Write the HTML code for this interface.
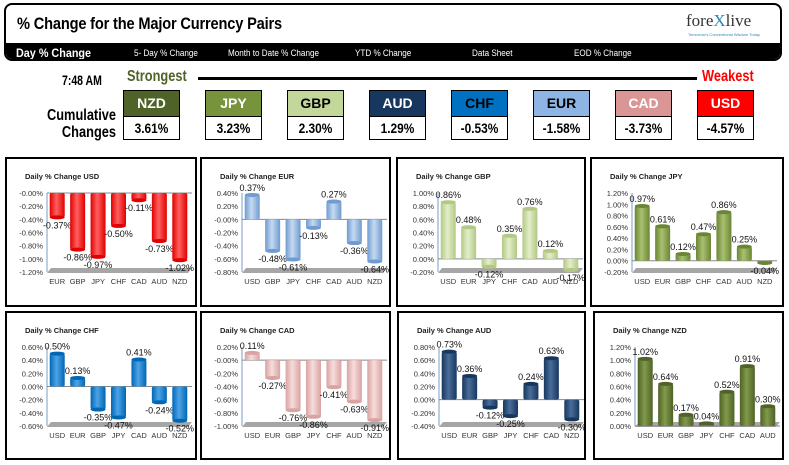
<!DOCTYPE html>
<html><head><meta charset="utf-8">
<style>
body{margin:0;width:789px;height:465px;background:#fff;font-family:"Liberation Sans",sans-serif;overflow:hidden;position:relative}
.abs{position:absolute}
.hdr{left:4px;top:3px;width:778px;height:58px;border:2px solid #000;border-radius:8px;overflow:hidden;box-sizing:border-box}
.title{left:11px;top:9px;font-weight:bold;font-size:17px;transform:scaleX(.86);transform-origin:left;letter-spacing:-.2px;white-space:nowrap}
.nav{left:0;top:38px;width:100%;height:20px;background:#000;color:#fff;font-size:9px}
.nav span{position:absolute;top:5px;transform:scaleX(.9);transform-origin:left;white-space:nowrap}
.box{width:57px;height:50px;border:1px solid #000;box-sizing:border-box}
.box .c{height:25px;border-bottom:1px solid #000;color:#fff;font-weight:bold;font-size:14px;text-align:center;line-height:25px}
.box .v{height:23px;font-weight:bold;font-size:14px;text-align:center;line-height:23px;transform:scaleX(.85)}
.panel{border:2px solid #000;box-sizing:border-box;background:#fff}
</style></head><body>
<div class="abs hdr">
 <div class="abs title">% Change for the Major Currency Pairs</div>
 <div class="abs" style="left:680px;top:6px;font-family:'Liberation Serif',serif;font-size:17px;color:#333">fore<span style="color:#2a8ab8">X</span>live</div>
 <div class="abs" style="left:682px;top:27px;font-size:4px;color:#2a8ab8;white-space:nowrap">Tomorrow's Conventional Wisdom Today</div>
 <div class="abs nav">
  <span style="left:10px;top:3px;font-size:12px;font-weight:bold">Day % Change</span>
  <span style="left:128px">5- Day % Change</span>
  <span style="left:222px">Month to Date % Change</span>
  <span style="left:349px">YTD % Change</span>
  <span style="left:466px">Data Sheet</span>
  <span style="left:568px">EOD % Change</span>
 </div>
</div>
<div class="abs" style="left:62px;top:72px;font-weight:bold;font-size:14px;transform:scaleX(.75);transform-origin:left;white-space:nowrap">7:48 AM</div>
<div class="abs" style="left:127px;top:68px;font-weight:bold;font-size:16px;color:#4f6228;transform:scaleX(.8);transform-origin:left">Strongest</div>
<div class="abs" style="left:198px;top:77px;width:499px;height:3px;background:#000"></div>
<div class="abs" style="left:702px;top:68px;font-weight:bold;font-size:16px;color:#f00;transform:scaleX(.8);transform-origin:left">Weakest</div>
<div class="abs" style="left:20px;top:107px;width:96px;text-align:right;font-weight:bold;font-size:16px;line-height:17px;transform:scaleX(.8);transform-origin:right">Cumulative Changes</div>
<div id="boxes"></div>
<div id="panels"></div>
<script>
const boxCur=["NZD","JPY","GBP","AUD","CHF","EUR","CAD","USD"];
const boxVal=["3.61%","3.23%","2.30%","1.29%","-0.53%","-1.58%","-3.73%","-4.57%"];
const boxCol=["#4f6228","#77933c","#c4d79b","#17375e","#0070c0","#8db4e2","#da9694","#ff0000"];
const boxTxt=["#fff","#fff","#000","#fff","#000","#000","#fff","#fff"];
const bx=document.getElementById('boxes');
boxCur.forEach((c,i)=>{
 const d=document.createElement('div');
 d.className='abs box';
 d.style.left=(123+i*82)+'px';d.style.top='90px';
 
 
 d.innerHTML='<div class="c" style="background:'+boxCol[i]+';color:'+boxTxt[i]+'">'+c+'</div><div class="v">'+boxVal[i]+'</div>';
 bx.appendChild(d);
});

const usdCats=["EUR","GBP","JPY","CHF","CAD","AUD","NZD"], usdVals=[-0.37,-0.86,-0.97,-0.50,-0.11,-0.73,-1.02];
const eurCats=["USD","GBP","JPY","CHF","CAD","AUD","NZD"], eurVals=[0.37,-0.48,-0.61,-0.13,0.27,-0.36,-0.64];
const gbpCats=["USD","EUR","JPY","CHF","CAD","AUD","NZD"], gbpVals=[0.86,0.48,-0.12,0.35,0.76,0.12,-0.17];
const jpyCats=["USD","EUR","GBP","CHF","CAD","AUD","NZD"], jpyVals=[0.97,0.61,0.12,0.47,0.86,0.25,-0.04];
const chfCats=["USD","EUR","GBP","JPY","CAD","AUD","NZD"], chfVals=[0.50,0.13,-0.35,-0.47,0.41,-0.24,-0.52];
const cadCats=["USD","EUR","GBP","JPY","CHF","AUD","NZD"], cadVals=[0.11,-0.27,-0.76,-0.86,-0.41,-0.63,-0.91];
const audCats=["USD","EUR","GBP","JPY","CHF","CAD","NZD"], audVals=[0.73,0.36,-0.12,-0.25,0.24,0.63,-0.30];
const nzdCats=["USD","EUR","GBP","JPY","CHF","CAD","AUD"], nzdVals=[1.02,0.64,0.17,0.04,0.52,0.91,0.30];
const axisMin=[-1.2,-0.8,-0.2,-0.2,-0.6,-1.0,-0.4,0.0];
const axisMax=[0.0,0.4,1.0,1.2,0.6,0.2,0.8,1.2];

const panels=[
 {name:"USD",cats:usdCats,vals:usdVals,col:"#e00000",lt:"#ff6060",x:5,y:157,w:192,h:150},
 {name:"EUR",cats:eurCats,vals:eurVals,col:"#6f9bd0",lt:"#c5daf2",x:200,y:157,w:191,h:150},
 {name:"GBP",cats:gbpCats,vals:gbpVals,col:"#b3c884",lt:"#e4eecb",x:396,y:157,w:190,h:150},
 {name:"JPY",cats:jpyCats,vals:jpyVals,col:"#6a8634",lt:"#a9c070",x:590,y:157,w:194,h:150},
 {name:"CHF",cats:chfCats,vals:chfVals,col:"#0067b5",lt:"#4da3e6",x:5,y:311,w:192,h:149},
 {name:"CAD",cats:cadCats,vals:cadVals,col:"#d8a3a2",lt:"#f7dcdc",x:200,y:311,w:191,h:149},
 {name:"AUD",cats:audCats,vals:audVals,col:"#17375e",lt:"#4a6d9a",x:397,y:311,w:189,h:149},
 {name:"NZD",cats:nzdCats,vals:nzdVals,col:"#4f6228",lt:"#829a4a",x:593,y:311,w:191,h:149}
];
const NS="http://www.w3.org/2000/svg";
const host=document.getElementById('panels');
function mk(tag,attrs,parent){const e=document.createElementNS(NS,tag);for(const k in attrs)e.setAttribute(k,attrs[k]);parent.appendChild(e);return e;}
panels.forEach((p,pi)=>{
 const div=document.createElement('div');
 div.className='abs panel';
 div.style.left=p.x+'px';div.style.top=p.y+'px';div.style.width=p.w+'px';div.style.height=p.h+'px';
 
 
 host.appendChild(div);
 const svg=mk('svg',{width:p.w-4,height:p.h-4,style:'position:absolute;left:0;top:0'},div);
 
 
 const defs=mk('defs',{},svg);
 const g=mk('linearGradient',{id:'g'+pi,x1:0,x2:1,y1:0,y2:0},defs);
 mk('stop',{offset:'0','stop-color':p.col},g);
 mk('stop',{offset:'0.45','stop-color':p.lt},g);
 mk('stop',{offset:'1','stop-color':p.col},g);
 const t=mk('text',{x:18,y:20,'font-size':'7.5','font-weight':'bold',fill:'#222'},svg);
 t.textContent='Daily % Change '+p.name;
 
 
 const mn=axisMin[pi],mx=axisMax[pi];
 const top=34,bot=113,left=40,right=183;
 const Y=v=>top+(mx-v)/(mx-mn)*(bot-top);
 const fl=mk('polygon',{points:(left+4)+','+(bot-4)+' '+(right+2)+','+(bot-4)+' '+(right-2)+','+(bot+1)+' '+left+','+(bot+1),fill:'#a6a6a6'},svg);
 
 
 for(let v=mn;v<=mx+1e-6;v+=0.2){
  const lb=mk('text',{x:left-4,y:Y(v)+3,'font-size':'7.5','text-anchor':'end',fill:'#333'},svg);
  lb.textContent=v.toFixed(2)+'%';
  
  
 }
 const ax=mk('line',{x1:left,x2:left,y1:top,y2:bot,stroke:'#7a9cc6','stroke-width':1},svg);
 
 
 const zl=mk('line',{x1:left,x2:right+2,y1:Y(0),y2:Y(0),stroke:'#888','stroke-width':1},svg);
 
 
 const step=(right-left)/p.cats.length,bw=15;
 p.cats.forEach((c,i)=>{
  const cx=left+step*(i+0.5), v=p.vals[i];
  const y0=Y(0),y1=Y(v);
  const r=mk('rect',{x:cx-bw/2,y:Math.min(y0,y1),width:bw,height:Math.max(1.5,Math.abs(y1-y0)),fill:'url(#g'+pi+')',rx:2},svg);
  
  
  const cap=mk('ellipse',{cx:cx,cy:y1,rx:bw/2,ry:2,fill:p.col},svg);
  
  
  const vl=mk('text',{x:cx,y:v>=0?y1-4:y1+11,'font-size':'9','text-anchor':'middle',fill:'#111'},svg);
  vl.textContent=v.toFixed(2)+'%';
  
  
  const cl=mk('text',{x:cx,y:bot+12,'font-size':'7.5','text-anchor':'middle',fill:'#333'},svg);
  cl.textContent=c;
  
  
 });
});
</script>
</body></html>
